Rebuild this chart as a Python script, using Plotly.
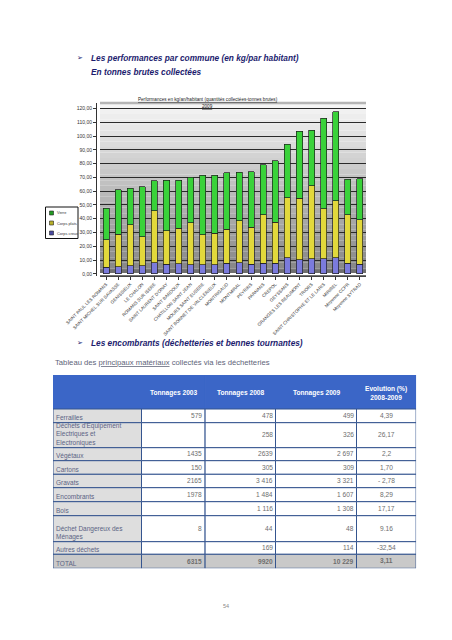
import plotly.graph_objects as go

# page is 452x640; the html body adds an 8px margin, so the figure is 436x624
PW, PH = 452, 640
OFF = 8
FW, FH = PW - 2 * OFF, PH - 2 * OFF

# ---------------- chart data ----------------
communes = [
    "SAINT PAUL LES ROMANS", "SAINT MICHEL SUR SAVASSE", "GENISSIEUX", "LE CHALON",
    "ROMANS SUR ISERE", "SAINT LAURENT D'ONAY", "SAINT BARDOUX", "CHATILLON SAINT JEAN",
    "MOURS SAINT EUSEBE", "SAINT BONNET DE VALCLERIEUX", "MONTRIGAUD", "MONTMIRAL",
    "PEYRINS", "PARNANS", "CREPOL", "GEYSSANS", "GRANGES LES BEAUMONT", "TRIORS",
    "SAINT CHRISTOPHE ET LE LARIS", "MIRIBEL", "Moyenne CCPR", "Moyenne SYTRAD",
]
corps_creux = [4.8, 5.3, 6.0, 5.8, 8.2, 6.8, 7.2, 6.5, 6.5, 6.5, 7.7,
               8.2, 6.8, 7.7, 7.7, 11.8, 10.1, 10.9, 10.9, 11.8, 7.7, 7.0]
corps_plats = [19.8, 23.4, 29.5, 21.2, 37.7, 24.6, 25.7, 30.7, 21.8, 23.0, 24.7,
               30.2, 27.0, 35.1, 29.7, 43.5, 44.7, 52.9, 36.2, 41.3, 35.1, 32.1]
verre = [23.0, 32.2, 26.5, 36.3, 21.7, 36.6, 35.1, 32.8, 43.2, 42.0, 41.0,
         35.3, 40.2, 36.2, 44.6, 38.7, 48.8, 40.5, 65.7, 64.5, 25.8, 29.9]
series_names = ["Corps creux", "Corps plats", "Verre"]
y_tickvals = [0, 10, 20, 30, 40, 50, 60, 70, 80, 90, 100, 110, 120]
y_ticktext = ["0,00", "10,00", "20,00", "30,00", "40,00", "50,00", "60,00",
              "70,00", "80,00", "90,00", "100,00", "110,00", "120,00"]

# ---------------- table data ----------------
table_header = ["", "Tonnages 2003", "Tonnages 2008", "Tonnages 2009", "Evolution (%)<br>2008-2009"]
materiaux = ["Ferrailles", "Déchets d'Equipement<br>Electriques et<br>Electroniques",
             "Végétaux", "Cartons", "Gravats", "Encombrants", "Bois",
             "Déchet Dangereux des<br>Ménages", "Autres déchets", "TOTAL"]
t2003 = ["579", "", "1435", "150", "2165", "1978", "", "8", "", "6315"]
t2008 = ["478", "258", "2639", "305", "3 416", "1 484", "1 116", "44", "169", "9920"]
t2009 = ["499", "326", "2 697", "309", "3 321", "1 607", "1 308", "48", "114", "10 229"]
evolution = ["4,39", "26,17", "2,2", "1,70", "- 2,78", "8,29", "17,17", "9.16", "-32,54", "3,11"]

# ---------------- styles ----------------
bar_colors = ["#7b7bdc", "#e2d83c", "#3ad23a"]
legend_swatch = ["#4a4aa0", "#b8b028", "#229a22"]
NAVY = "#1c1c6e"
col_w = [88.5, 63.6, 70.4, 81.0, 59.6]
row_h = [34.0, 13.7, 25.0, 13.0, 13.6, 13.4, 14.0, 14.0, 26.0, 12.6, 14.0]
TABLE_LEFT, TABLE_TOP = 53.0, 375.0
LABEL_SIZE = 6.5


def px(x, y):
    return (x - OFF) / FW, 1 - (y - OFF) / FH


fig = go.Figure()

for name, vals, col in zip(series_names, [corps_creux, corps_plats, verre], bar_colors):
    fig.add_trace(go.Bar(
        x=communes, y=vals, name=name,
        marker=dict(color=col, line=dict(color="#1e1e1e", width=0.7)),
        width=0.5, showlegend=False, xaxis="x", yaxis="y",
    ))

# axis pair that carries the table (units = page pixels)
fig.add_trace(go.Scatter(x=[], y=[], xaxis="x2", yaxis="y2", showlegend=False, hoverinfo="skip"))

shapes = []
annotations = []

# background gradient of the chart wall
N = 31
lo, hi = (0x84, 0x84, 0x84), (0xf7, 0xf7, 0xf7)
for i in range(N):
    t = (i + 0.5) / N
    c = tuple(int(lo[k] + (hi[k] - lo[k]) * t) for k in range(3))
    shapes.append(dict(type="rect", xref="x domain", yref="y",
                       x0=0, x1=1, y0=124.0 * i / N, y1=124.0 * (i + 1) / N,
                       fillcolor="rgb(%d,%d,%d)" % c, line=dict(width=0), layer="below"))
shapes.append(dict(type="rect", xref="x domain", yref="y", x0=0, x1=1, y0=-1.6, y1=3.2,
                   fillcolor="#6f6f6f", line=dict(width=0), layer="below"))
shapes.append(dict(type="line", xref="x domain", yref="y domain", x0=0, x1=1, y0=1, y1=1,
                   line=dict(color="#b5b5b5", width=2.5)))

# legend box (drawn by hand to match the small original box)
bx0, by0 = px(45.5, 207)
bx1, by1 = px(78, 238.5)
shapes.append(dict(type="rect", xref="paper", yref="paper", x0=bx0, x1=bx1, y0=by1, y1=by0,
                   line=dict(color="#111", width=1), fillcolor="white"))
for i, (name, col) in enumerate(zip(series_names[::-1], legend_swatch[::-1])):
    yy = 213 + 10 * i
    sx0, sy0 = px(49.5, yy - 2)
    sx1, sy1 = px(53.5, yy + 2)
    shapes.append(dict(type="rect", xref="paper", yref="paper", x0=sx0, x1=sx1, y0=sy1, y1=sy0,
                       fillcolor=col, line=dict(color="#222", width=0.6)))
    ax, ay = px(54.5, yy)
    annotations.append(dict(text=name, x=ax, y=ay, xref="paper", yref="paper", showarrow=False,
                            xanchor="left", yanchor="middle",
                            font=dict(size=3.9, color="#333", family="Liberation Sans")))


def text(t, x, y, size, color, anchor="left", family="Liberation Sans"):
    ax, ay = px(x, y)
    annotations.append(dict(text=t, x=ax, y=ay, xref="paper", yref="paper", showarrow=False,
                            xanchor=anchor, yanchor="middle",
                            font=dict(size=size, color=color, family=family)))


text("➢", 75, 58, 7, NAVY, family="DejaVu Sans")
text("<b><i>Les performances par commune (en kg/par habitant)</i></b>", 88.5, 58, 8.3, NAVY)
text("<b><i>En tonnes brutes collectées</i></b>", 88.5, 72.5, 8.3, NAVY)
text("<u>Performances en kg/an/habitant (quantités collectées-tonnes brutes)</u>", 207.5, 99, 4.6, "#222", "center")
text("<u>2009</u>", 207.5, 106, 4.6, "#222", "center")
text("➢", 75, 342.7, 7, NAVY, family="DejaVu Sans")
text("<b><i>Les encombrants (déchetteries et bennes tournantes)</i></b>", 88.5, 342.7, 8.3, NAVY)
text("Tableau des <u>principaux matériaux</u> collectés via les déchetteries", 52.5, 362, 7.7, "#5e6478")
text("54", 226, 606, 5.5, "#888", "center")

# ---------------- table through axes x2 / y2 ----------------
cum_x = [0.0]
for w in col_w:
    cum_x.append(cum_x[-1] + w)
cum_y = [0.0]
for h in row_h:
    cum_y.append(cum_y[-1] + h)
columns = [materiaux, t2003, t2008, t2009, evolution]
nrows = len(materiaux)
BLUE = "#3b66c7"
LINE = "#35558f"

for c in range(5):
    shapes.append(dict(type="rect", xref="x2", yref="y2", x0=cum_x[c], x1=cum_x[c + 1],
                       y0=cum_y[0], y1=cum_y[1], fillcolor=BLUE, line=dict(color=BLUE, width=1)))
    if table_header[c]:
        annotations.append(dict(text="<b>" + table_header[c] + "</b>", xref="x2", yref="y2",
                                x=(cum_x[c] + cum_x[c + 1]) / 2, y=(cum_y[0] + cum_y[1]) / 2 + 0.5,
                                showarrow=False, xanchor="center", yanchor="middle",
                                font=dict(size=6.6, color="white", family="Liberation Sans")))

for r in range(nrows):
    top, bot = cum_y[r + 1], cum_y[r + 2]
    last = r == nrows - 1
    for c in range(5):
        if last:
            fill = "#c9c9c9"
        elif c == 0:
            fill = "#dedede"
        else:
            fill = "#ffffff"
        shapes.append(dict(type="rect", xref="x2", yref="y2", x0=cum_x[c], x1=cum_x[c + 1],
                           y0=top, y1=bot, fillcolor=fill, line=dict(color=LINE, width=1)))
        val = columns[c][r]
        if not val:
            continue
        if c == 0:
            nlines = val.count("<br>") + 1
            yc = bot - nlines * LABEL_SIZE * 1.3 / 2 - 0.6
            annotations.append(dict(text=val, xref="x2", yref="y2", x=cum_x[c] + 1.0, y=yc,
                                    showarrow=False, xanchor="left", yanchor="middle", align="left",
                                    font=dict(size=LABEL_SIZE, color="#5b6384", family="Liberation Sans")))
        else:
            shown = "<b>" + val + "</b>" if last else val
            if c == 4:
                x, anc = (cum_x[c] + cum_x[c + 1]) / 2, "center"
            else:
                x, anc = cum_x[c + 1] - 1.0, "right"
            annotations.append(dict(text=shown, xref="x2", yref="y2", x=x, y=(top + bot) / 2 - 0.3,
                                    showarrow=False, xanchor=anc, yanchor="middle",
                                    font=dict(size=6.6, color="#6e6e6e", family="Liberation Sans")))

tx0, _ = px(TABLE_LEFT, 0)
tx1, _ = px(TABLE_LEFT + cum_x[-1], 0)
_, ty1 = px(0, TABLE_TOP)
_, ty0 = px(0, TABLE_TOP + cum_y[-1])

cx0, _ = px(100, 0)
cx1, _ = px(366, 0)
_, cy0 = px(0, 276)
_, cy1 = px(0, 103)
yaxis_pos, _ = px(96, 0)

fig.update_layout(
    width=FW, height=FH, margin=dict(l=0, r=0, t=0, b=0, autoexpand=False),
    paper_bgcolor="white", plot_bgcolor="rgba(0,0,0,0)",
    barmode="stack", bargap=0.5,
    shapes=shapes, annotations=annotations, showlegend=False,
    xaxis=dict(domain=[cx0, cx1], range=[-0.5, 21.5], type="category",
               tickangle=-45, tickfont=dict(size=4.5, color="#333", family="Liberation Sans"),
               ticks="outside", ticklen=3, tickcolor="#333", showline=True, linecolor="#444",
               showgrid=False, anchor="y", fixedrange=True, automargin=False),
    yaxis=dict(domain=[cy0, cy1], range=[-1.6, 124], anchor="free",
               position=yaxis_pos, tickvals=y_tickvals, ticktext=y_ticktext,
               tickfont=dict(size=5, color="#333", family="Liberation Sans"),
               ticks="outside", ticklen=3, tickcolor="#333", showline=True, linecolor="#333",
               showgrid=True, gridcolor="#2a2a2a", gridwidth=1, zeroline=True,
               zerolinecolor="#ffffff", zerolinewidth=1.5, fixedrange=True, automargin=False),
    xaxis2=dict(domain=[tx0, tx1], range=[0, cum_x[-1]], visible=False, anchor="y2",
                fixedrange=True),
    yaxis2=dict(domain=[ty0, ty1], range=[cum_y[-1], 0], visible=False, anchor="x2",
                fixedrange=True),
)

fig.write_html("out.html")
